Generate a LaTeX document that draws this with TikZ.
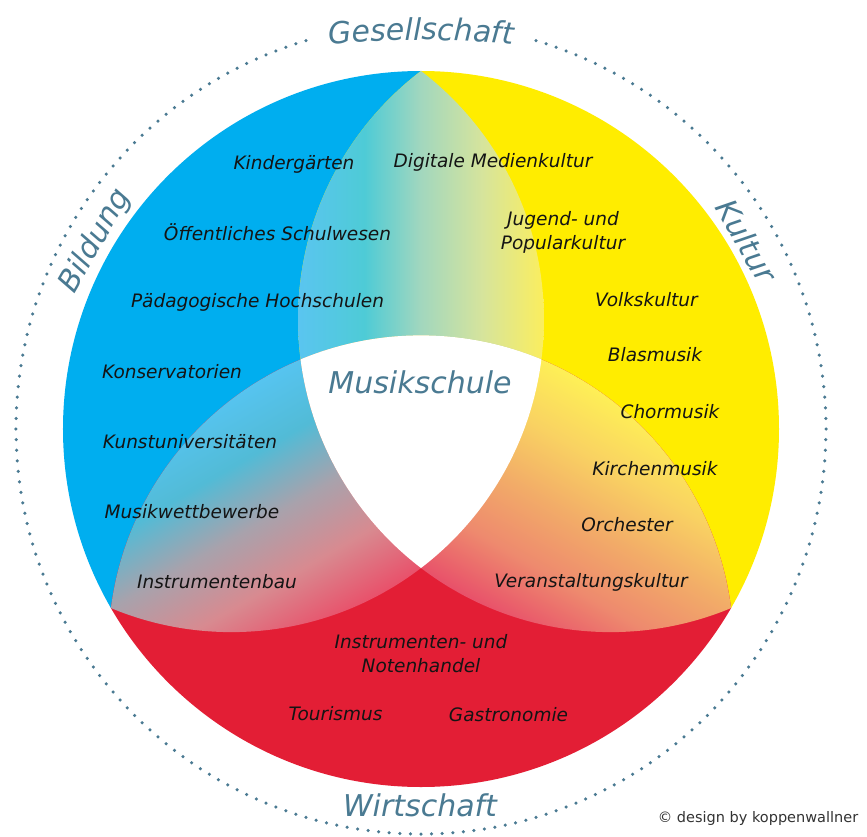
\documentclass[tikz,border=0pt]{standalone}
\usepackage{fontspec}
\setmainfont{DejaVu Sans}[ItalicFont={DejaVu Sans Oblique}]
\usetikzlibrary{decorations.text}
\definecolor{cblue}{HTML}{00AEEF}
\definecolor{cyel}{HTML}{FFED00}
\definecolor{cred}{HTML}{E31E35}
\definecolor{headcol}{HTML}{4A7A92}
\definecolor{txtcol}{HTML}{141414}
\definecolor{copycol}{HTML}{333333}
% upper lens (blue -> yellow)
\definecolor{ubA}{HTML}{5AC5F0}
\definecolor{ubB}{HTML}{4ECBD6}
\definecolor{ubC}{HTML}{A2D7BE}
\definecolor{ubD}{HTML}{D6E49C}
\definecolor{ubE}{HTML}{FBEE5E}
% lower left lens (blue -> red)
\definecolor{lbA}{HTML}{56C4F0}
\definecolor{lbB}{HTML}{52BBD6}
\definecolor{lbC}{HTML}{A8A2AC}
\definecolor{lbD}{HTML}{D88A90}
\definecolor{lbE}{HTML}{E9506A}
% lower right lens (yellow -> red)
\definecolor{lyA}{HTML}{FEF056}
\definecolor{lyB}{HTML}{F9D262}
\definecolor{lyC}{HTML}{F2AC68}
\definecolor{lyD}{HTML}{EE8A6E}
\definecolor{lyE}{HTML}{E8506A}
\pgfdeclarehorizontalshading{lensBY}{100bp}{color(0bp)=(ubA); color(25bp)=(ubA); color(38.5bp)=(ubB); color(50bp)=(ubC); color(62.5bp)=(ubD); color(75bp)=(ubE); color(100bp)=(ubE)}
\pgfdeclarehorizontalshading{lensBR}{100bp}{color(0bp)=(lbA); color(25bp)=(lbA); color(37.5bp)=(lbB); color(50bp)=(lbC); color(62.5bp)=(lbD); color(75bp)=(lbE); color(100bp)=(lbE)}
\pgfdeclarehorizontalshading{lensYR}{100bp}{color(0bp)=(lyA); color(25bp)=(lyA); color(37.5bp)=(lyB); color(50bp)=(lyC); color(62.5bp)=(lyD); color(75bp)=(lyE); color(100bp)=(lyE)}
\newcommand\hdfont{\fontsize{30}{36}\selectfont\itshape}
\tikzset{
  lab/.style={font=\fontsize{18.5}{24}\selectfont\itshape, text=txtcol, align=center, inner sep=0pt},
  head/.style={font=\hdfont, text=headcol, inner sep=0pt},
  dotc/.style={fill=headcol},
}
\begin{document}
\begin{tikzpicture}[x=1pt,y=1pt]
\fill[white] (-421,-407) rectangle (446,429);
\useasboundingbox (-421,-407) rectangle (446,429);
\def\rr{312.6}
\coordinate (O) at (0,0);
\coordinate (UL) at (-189.66,109.5);
\coordinate (UR) at (189.66,109.5);
\coordinate (BB) at (0,-219);
% base colours
\begin{scope}
  \clip (O) circle[radius=358];
  \fill[cblue] (UL) circle[radius=\rr];
  \fill[cyel] (UR) circle[radius=\rr];
  \fill[cred] (BB) circle[radius=\rr];
\end{scope}
% upper lens
\begin{scope}
  \clip (UL) circle[radius=\rr];
  \clip (UR) circle[radius=\rr];
  \shade[shading=lensBY] (-122.94,-150) rectangle (122.94,365);
\end{scope}
% lower left lens
\begin{scope}
  \clip (UL) circle[radius=\rr];
  \clip (BB) circle[radius=\rr];
  \begin{scope}[transform canvas={rotate=-60}]
    \shade[shading=lensBR] (-122.94,-365) rectangle (122.94,150);
  \end{scope}
\end{scope}
% lower right lens
\begin{scope}
  \clip (UR) circle[radius=\rr];
  \clip (BB) circle[radius=\rr];
  \begin{scope}[transform canvas={rotate=-120}]
    \shade[shading=lensYR] (-122.94,-150) rectangle (122.94,365);
  \end{scope}
\end{scope}
% centre
\begin{scope}
  \clip (UL) circle[radius=\rr];
  \clip (UR) circle[radius=\rr];
  \fill[white] (BB) circle[radius=\rr];
\end{scope}
% dotted circle
\foreach \a in {106.5,108,...,433.6} \fill[dotc] (\a:405) circle[radius=1.75];
% headings
\path[decorate, decoration={text along path, text={|\hdfont|Gesellschaft}, text align=center, text color=headcol}, shift={(0,-611)}]
  (107:1000) arc[start angle=107, end angle=73, radius=1000];
\node[head, rotate=60] (bild) at (150:376) {Bildung};
\node[head, rotate=-60] (kult) at (30:376) {Kultur};
\node[head] (wirt) at (-1,-376) {Wirtschaft};
\node[head] (musik) at (-1,47) {Musikschule};
% labels
\node[lab] (kinder) at (-127,265) {Kindergärten};
\node[lab] (digi) at (72,267) {Digitale Medienkultur};
\node[lab] (oeff) at (-143.5,197) {Öffentliches Schulwesen};
\node[lab] (jugend) at (142,197) {Jugend- und\\Popularkultur};
\node[lab] (paed) at (-163.5,127) {Pädagogische Hochschulen};
\node[lab] (volk) at (225.5,129) {Volkskultur};
\node[lab] (blas) at (234,74) {Blasmusik};
\node[lab] (kons) at (-249,57) {Konservatorien};
\node[lab] (chor) at (249,17) {Chormusik};
\node[lab] (kunst) at (-231,-13) {Kunstuniversitäten};
\node[lab] (kirche) at (234,-40) {Kirchenmusik};
\node[lab] (wett) at (-229,-83) {Musikwettbewerbe};
\node[lab] (orch) at (206,-96) {Orchester};
\node[lab] (ibau) at (-204,-153) {Instrumentenbau};
\node[lab] (veran) at (170,-153) {Veranstaltungskultur};
\node[lab] (handel) at (0,-225) {Instrumenten- und\\Notenhandel};
\node[lab] (tour) at (-85.5,-285) {Tourismus};
\node[lab] (gastro) at (87.5,-285.5) {Gastronomie};
\node[font=\fontsize{14.5}{16}\selectfont, text=copycol, inner sep=0pt] (copy) at (337,-389) {© design by koppenwallner};
\end{tikzpicture}
\end{document}
